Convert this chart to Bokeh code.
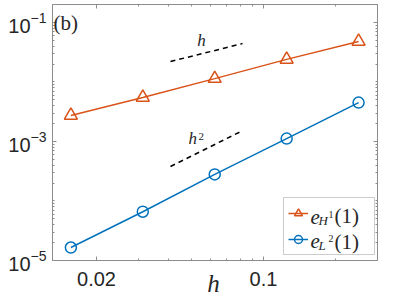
from bokeh.plotting import figure
from bokeh.models import (LogAxis, FixedTicker, CustomJSTickFormatter, Label,
                          Legend, LegendItem, Range1d)
from bokeh.embed import file_html
from bokeh.resources import INLINE

# ---- data ----
h = [1/64, 1/32, 1/16, 1/8, 1/4]
err_H1 = [2.74e-3, 5.5e-3, 1.14e-2, 2.4e-2, 4.8e-2]
err_L2 = [1.65e-5, 6.6e-5, 2.8e-4, 1.12e-3, 4.5e-3]
ref_h_x = [0.0408, 0.0817]
ref_h_y = [0.0221, 0.0442]
ref_h2_x = [0.0408, 0.0817]
ref_h2_y = [3.8e-4, 1.52e-3]
x_ticks = [0.02, 0.1]
x_minor = [0.02, 0.03, 0.04, 0.05, 0.06, 0.07, 0.08, 0.09, 0.2, 0.3]
y_ticks = [1e-5, 1e-3, 1e-1]
y_minor = [k * 10.0**e for e in range(-5, 0) for k in range(1, 10)]
y_lo, y_hi = 1e-5, 0.2007
x_lo, x_hi = 0.01309, 0.300

ORANGE = "#D95319"
BLUE = "#0072BD"
AX = "#8c8c8c"
TXT = "#262626"
SANS = "Liberation Sans"
SERIF = "Liberation Serif"

FL, FB = 52, 296  # frame left / bottom in page px

p = figure(width=380, height=296, x_axis_type="log", y_axis_type="log",
           x_range=Range1d(x_lo, x_hi), y_range=Range1d(2.48e-6, y_hi),
           output_backend="svg", toolbar_location=None,
           min_border_left=52, min_border_right=3, min_border_top=4,
           min_border_bottom=0)
p.grid.visible = False
p.outline_line_color = None
p.background_fill_color = "white"

def style_axis(ax, labels=True):
    ax.axis_line_color = AX
    ax.major_tick_line_color = AX
    ax.minor_tick_line_color = AX
    ax.major_tick_in = 4
    ax.major_tick_out = 0
    ax.minor_tick_in = 2
    ax.minor_tick_out = 0
    ax.major_label_text_color = TXT
    ax.major_label_text_font = SANS
    ax.major_label_text_font_size = "20px" if labels else "0px"
    if not labels:
        ax.major_label_standoff = 0

xt = FixedTicker(ticks=x_ticks, minor_ticks=x_minor)
yt = FixedTicker(ticks=y_ticks, minor_ticks=y_minor)

p.xaxis.ticker = xt
p.yaxis.ticker = yt
p.xaxis.formatter = CustomJSTickFormatter(code="return tick.toString();")
for ax in p.xaxis:
    style_axis(ax)
    ax.major_label_standoff = 12
    ax.fixed_location = y_lo
for ax in p.yaxis:
    style_axis(ax)
    ax.major_label_standoff = 6
    ax.bounds = (y_lo, y_hi)

top = LogAxis(ticker=xt, formatter=CustomJSTickFormatter(code="return '';"))
right = LogAxis(ticker=yt, formatter=CustomJSTickFormatter(code="return '';"),
                bounds=(y_lo, y_hi))
style_axis(top, False)
style_axis(right, False)
p.add_layout(top, "above")
p.add_layout(right, "right")

# reference slopes
p.line(ref_h_x, ref_h_y, line_color="black", line_width=1.5, line_dash="5 4")
p.line(ref_h2_x, ref_h2_y, line_color="black", line_width=1.5, line_dash="5 4")

# series
r1l = p.line(h, err_H1, line_color=ORANGE, line_width=1.5)
r1m = p.scatter(h, err_H1, marker="triangle", size=13, fill_color=None,
                line_color=ORANGE, line_width=1.5)
r2l = p.line(h, err_L2, line_color=BLUE, line_width=1.5)
r2m = p.scatter(h, err_L2, marker="circle", size=11, fill_color=None,
                line_color=BLUE, line_width=1.5)

legend = Legend(items=[LegendItem(label=" ", renderers=[r1l, r1m]),
                       LegendItem(label=" ", renderers=[r2l, r2m])],
                location=(231, FB - 255), label_width=57, label_height=22,
                glyph_width=20, glyph_height=22, spacing=4, padding=4,
                margin=0, label_standoff=5, border_line_color="#999999",
                background_fill_alpha=0)
p.add_layout(legend)

def lab(text, px, py, size, style="normal", align="left"):
    # py: wanted baseline (page px); the text box sits ~0.2em lower
    p.add_layout(Label(x=px - FL, y=FB - (py - round(0.2 * size)),
                       x_units="screen", y_units="screen",
                       text=text, text_font=SERIF, text_font_size=f"{size}px",
                       text_font_style=style, text_align=align,
                       text_baseline="alphabetic", text_color=TXT,
                       level="overlay"))

# legend text (e_{H^1}(1), e_{L^2}(1))
lab("e", 310, 220, 21, "italic")
lab("H", 318, 223, 13, "italic")
lab("1", 328, 216, 10)
lab("(1)", 334, 219, 21)
lab("e", 310, 244, 21, "italic")
lab("L", 318, 248, 13, "italic")
lab("2", 328, 240, 10)
lab("(1)", 334, 245, 21)

# annotations
lab("(b)", 53, 26, 21)
lab("h", 201, 43, 17, "italic", "center")
lab("h", 188, 141, 17, "italic")
lab("2", 198, 138, 11)
lab("h", 213, 288, 25, "italic", "center")

open("out.html", "w").write(file_html(p, INLINE))
